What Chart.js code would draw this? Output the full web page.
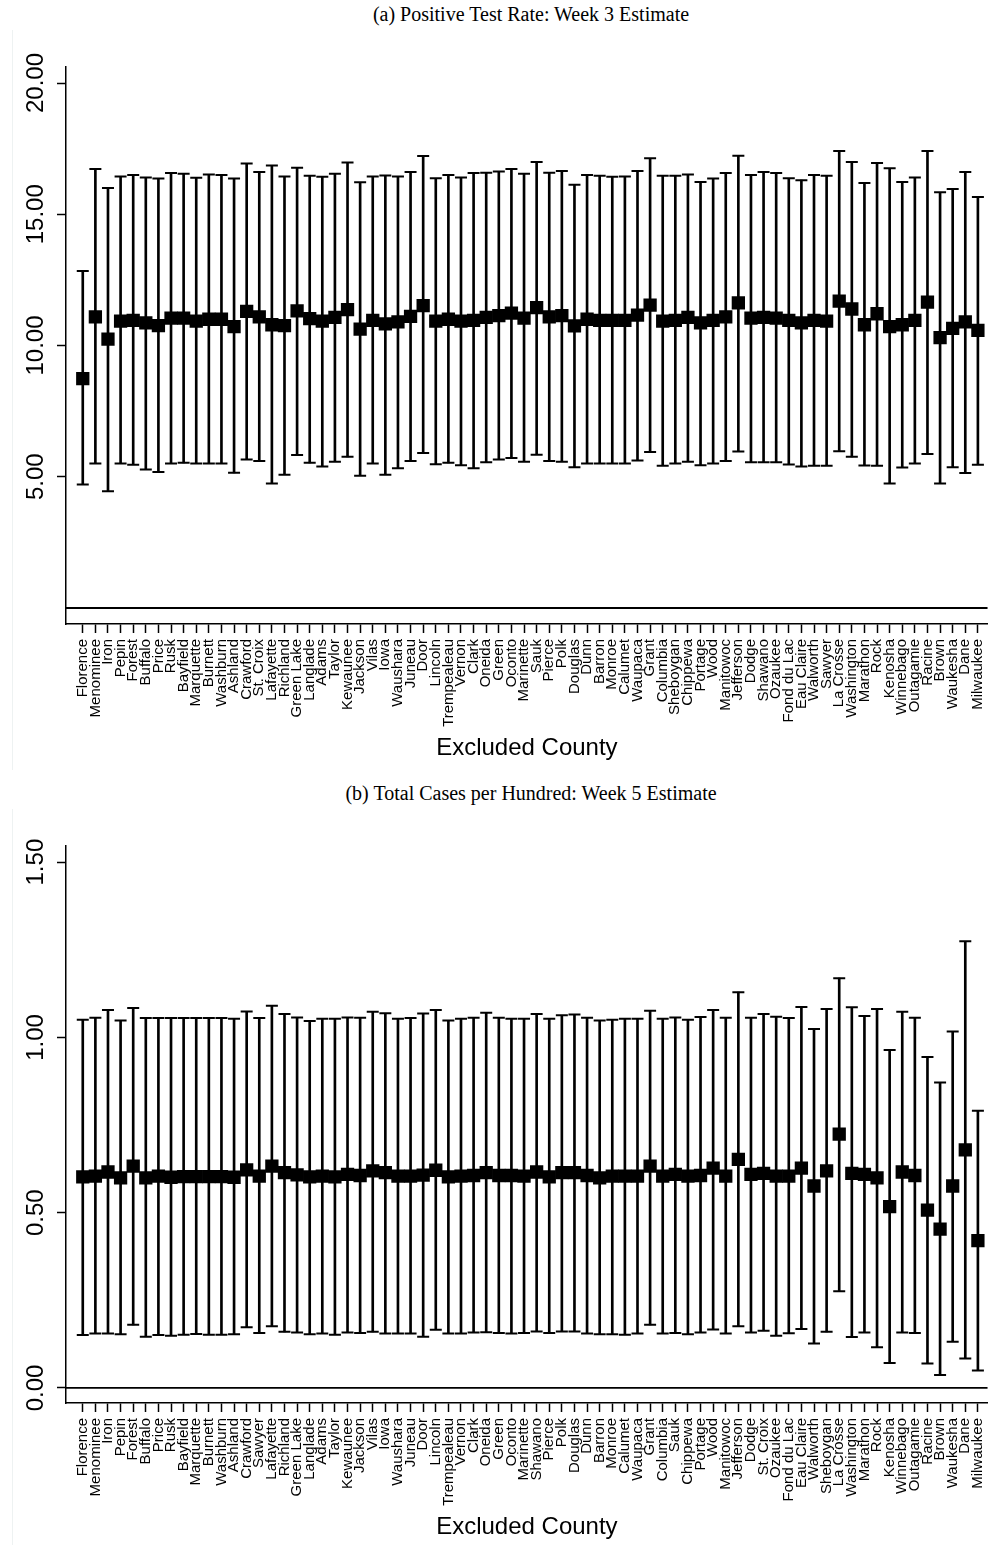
<!DOCTYPE html>
<html>
<head>
<meta charset="utf-8">
<title>Excluded County Estimates</title>
<script src="https://cdn.jsdelivr.net/npm/chart.js@4.4.1/dist/chart.umd.min.js"></script>
<style>
    html, body { margin: 0; padding: 0; background: #fff; overflow: hidden; }
    body { width: 1002px; height: 1545px; position: relative; }
    .panel { position: absolute; left: 0; width: 1002px; height: 779px; }
    .panel canvas { position: absolute; left: 0; top: 0; }
    .caption {
        position: absolute; left: 0; top: 3px; width: 1062px; text-align: center;
        font-family: "Liberation Serif", "DejaVu Serif", serif; font-size: 20px; line-height: 22px; color: #000;
    }
    .edge { position: absolute; left: 12px; top: 30px; width: 0; height: 740px; border-left: 1px solid #eef2f2; }
</style>
</head>
<body>
<div class="panel" style="top:0px">
    <div class="edge"></div>
    <div class="caption">(a) Positive Test Rate: Week 3 Estimate</div>
    <canvas id="chartA" width="1002" height="779"></canvas>
</div>
<div class="panel" style="top:779px">
    <div class="edge"></div>
    <div class="caption">(b) Total Cases per Hundred: Week 5 Estimate</div>
    <canvas id="chartB" width="1002" height="779"></canvas>
</div>
<script>
// Panel (a): positive test rate, week 3
const countiesA = ['Florence', 'Menominee', 'Iron', 'Pepin', 'Forest', 'Buffalo', 'Price', 'Rusk', 'Bayfield', 'Marquette',
    'Burnett', 'Washburn', 'Ashland', 'Crawford', 'St. Croix', 'Lafayette', 'Richland', 'Green Lake', 'Langlade', 'Adams',
    'Taylor', 'Kewaunee', 'Jackson', 'Vilas', 'Iowa', 'Waushara', 'Juneau', 'Door', 'Lincoln', 'Trempealeau',
    'Vernon', 'Clark', 'Oneida', 'Green', 'Oconto', 'Marinette', 'Sauk', 'Pierce', 'Polk', 'Douglas',
    'Dunn', 'Barron', 'Monroe', 'Calumet', 'Waupaca', 'Grant', 'Columbia', 'Sheboygan', 'Chippewa', 'Portage',
    'Wood', 'Manitowoc', 'Jefferson', 'Dodge', 'Shawano', 'Ozaukee', 'Fond du Lac', 'Eau Claire', 'Walworth', 'Sawyer',
    'La Crosse', 'Washington', 'Marathon', 'Rock', 'Kenosha', 'Winnebago', 'Outagamie', 'Racine', 'Brown', 'Waukesha',
    'Dane', 'Milwaukee'];
const estA = [8.74, 11.09, 10.24, 10.93, 10.96, 10.86, 10.76, 11.04, 11.04, 10.93,
    11.00, 11.00, 10.72, 11.30, 11.09, 10.79, 10.76, 11.32, 11.02, 10.93,
    11.07, 11.37, 10.62, 10.96, 10.82, 10.90, 11.11, 11.52, 10.93, 11.00,
    10.93, 10.96, 11.07, 11.14, 11.23, 11.04, 11.44, 11.09, 11.14, 10.75,
    11.00, 10.96, 10.96, 10.96, 11.16, 11.54, 10.93, 10.96, 11.07, 10.86,
    10.96, 11.09, 11.62, 11.04, 11.07, 11.04, 10.96, 10.86, 10.96, 10.93,
    11.69, 11.39, 10.79, 11.21, 10.72, 10.79, 10.96, 11.65, 10.30, 10.65,
    10.90, 10.58];
const lowA = [4.70, 5.50, 4.45, 5.50, 5.46, 5.28, 5.18, 5.50, 5.53, 5.50,
    5.50, 5.50, 5.15, 5.66, 5.60, 4.74, 5.08, 5.83, 5.53, 5.39,
    5.57, 5.76, 5.04, 5.50, 5.08, 5.32, 5.60, 5.90, 5.48, 5.53,
    5.44, 5.32, 5.55, 5.66, 5.71, 5.57, 5.84, 5.60, 5.57, 5.36,
    5.50, 5.50, 5.50, 5.50, 5.62, 5.94, 5.42, 5.50, 5.57, 5.44,
    5.50, 5.60, 5.96, 5.55, 5.55, 5.55, 5.47, 5.39, 5.42, 5.42,
    5.97, 5.76, 5.43, 5.42, 4.74, 5.35, 5.50, 5.87, 4.74, 5.36,
    5.14, 5.46];
const highA = [12.84, 16.72, 16.00, 16.44, 16.50, 16.40, 16.36, 16.57, 16.54, 16.39,
    16.51, 16.50, 16.36, 16.93, 16.61, 16.86, 16.44, 16.77, 16.47, 16.43,
    16.54, 16.97, 16.22, 16.44, 16.48, 16.44, 16.61, 17.22, 16.37, 16.50,
    16.40, 16.57, 16.58, 16.63, 16.72, 16.54, 16.99, 16.58, 16.65, 16.12,
    16.50, 16.47, 16.43, 16.44, 16.65, 17.13, 16.47, 16.47, 16.51, 16.23,
    16.36, 16.57, 17.23, 16.50, 16.61, 16.57, 16.37, 16.30, 16.50, 16.47,
    17.41, 16.99, 16.19, 16.95, 16.75, 16.23, 16.40, 17.41, 15.84, 15.96,
    16.61, 15.66];
const yTicksA = [5, 10, 15, 20];

// Panel (b): total cases per hundred, week 5
const countiesB = ['Florence', 'Menominee', 'Iron', 'Pepin', 'Forest', 'Buffalo', 'Price', 'Rusk', 'Bayfield', 'Marquette',
    'Burnett', 'Washburn', 'Ashland', 'Crawford', 'Sawyer', 'Lafayette', 'Richland', 'Green Lake', 'Langlade', 'Adams',
    'Taylor', 'Kewaunee', 'Jackson', 'Vilas', 'Iowa', 'Waushara', 'Juneau', 'Door', 'Lincoln', 'Trempealeau',
    'Vernon', 'Clark', 'Oneida', 'Green', 'Oconto', 'Marinette', 'Shawano', 'Pierce', 'Polk', 'Douglas',
    'Dunn', 'Barron', 'Monroe', 'Calumet', 'Waupaca', 'Grant', 'Columbia', 'Sauk', 'Chippewa', 'Portage',
    'Wood', 'Manitowoc', 'Jefferson', 'Dodge', 'St. Croix', 'Ozaukee', 'Fond du Lac', 'Eau Claire', 'Walworth', 'Sheboygan',
    'La Crosse', 'Washington', 'Marathon', 'Rock', 'Kenosha', 'Winnebago', 'Outagamie', 'Racine', 'Brown', 'Waukesha',
    'Dane', 'Milwaukee'];
const estB = [0.602, 0.604, 0.616, 0.599, 0.633, 0.599, 0.604, 0.601, 0.603, 0.603,
    0.603, 0.603, 0.601, 0.622, 0.604, 0.633, 0.614, 0.608, 0.602, 0.604,
    0.602, 0.609, 0.606, 0.619, 0.614, 0.604, 0.604, 0.607, 0.621, 0.602,
    0.604, 0.606, 0.614, 0.606, 0.606, 0.604, 0.616, 0.602, 0.614, 0.614,
    0.606, 0.599, 0.604, 0.604, 0.604, 0.633, 0.604, 0.609, 0.604, 0.606,
    0.627, 0.604, 0.652, 0.609, 0.612, 0.604, 0.604, 0.627, 0.576, 0.619,
    0.724, 0.612, 0.609, 0.599, 0.517, 0.616, 0.606, 0.507, 0.453, 0.576,
    0.679, 0.420];
const lowB = [0.151, 0.155, 0.155, 0.153, 0.180, 0.146, 0.151, 0.149, 0.152, 0.154,
    0.152, 0.152, 0.153, 0.173, 0.157, 0.176, 0.160, 0.158, 0.153, 0.155,
    0.152, 0.158, 0.157, 0.160, 0.155, 0.155, 0.155, 0.146, 0.166, 0.155,
    0.155, 0.158, 0.159, 0.157, 0.155, 0.157, 0.161, 0.157, 0.161, 0.161,
    0.155, 0.153, 0.153, 0.152, 0.155, 0.180, 0.155, 0.157, 0.153, 0.158,
    0.167, 0.155, 0.176, 0.158, 0.163, 0.149, 0.156, 0.168, 0.127, 0.160,
    0.276, 0.145, 0.158, 0.116, 0.071, 0.158, 0.157, 0.070, 0.037, 0.132,
    0.084, 0.050];
const highB = [1.050, 1.056, 1.078, 1.048, 1.084, 1.055, 1.055, 1.055, 1.055, 1.055,
    1.055, 1.055, 1.053, 1.074, 1.055, 1.090, 1.067, 1.057, 1.047, 1.053,
    1.053, 1.057, 1.056, 1.073, 1.069, 1.053, 1.055, 1.068, 1.078, 1.048,
    1.053, 1.056, 1.070, 1.056, 1.053, 1.053, 1.067, 1.053, 1.063, 1.065,
    1.056, 1.048, 1.050, 1.053, 1.053, 1.076, 1.053, 1.057, 1.050, 1.058,
    1.078, 1.056, 1.129, 1.056, 1.067, 1.059, 1.055, 1.087, 1.024, 1.081,
    1.169, 1.086, 1.061, 1.081, 0.964, 1.073, 1.056, 0.944, 0.871, 1.017,
    1.274, 0.791];
const yTicksB = [0, 0.5, 1, 1.5];

Chart.defaults.font.family = '"Liberation Sans", Arial, sans-serif';
Chart.defaults.color = '#000';

// y tick labels in the original are turned on their side, Chart.js can't rotate them
const sideYLabels = {
    id: 'sideYLabels',
    afterDraw(chart, args, opts) {
        const y = chart.scales.y;
        const ctx = chart.ctx;
        ctx.save();
        ctx.fillStyle = '#000';
        ctx.font = '24px "Liberation Sans", Arial, sans-serif';
        ctx.textAlign = 'center';
        ctx.textBaseline = 'alphabetic';
        opts.values.forEach(v => {
            ctx.save();
            ctx.translate(43, y.getPixelForValue(v));
            ctx.rotate(-Math.PI / 2);
            ctx.fillText(v.toFixed(2), 0, 0);
            ctx.restore();
        });
        ctx.restore();
    }
};

function makeChart(canvasId, counties, est, low, high, yTicks, yMin, yMax) {
    const xMin = -0.33, xMax = 72.78;
    const idx = counties.map((c, i) => i + 1);

    return new Chart(document.getElementById(canvasId).getContext('2d'), {
        type: 'scatter',
        data: {
            datasets: [
                {
                    type: 'line',
                    data: [{x: xMin, y: 0}, {x: xMax, y: 0}],
                    borderColor: '#000',
                    borderWidth: 1.8,
                    pointRadius: 0,
                    order: 4
                },
                {
                    type: 'bar',
                    data: idx.map((x, i) => ({x: x, y: [low[i], high[i]]})),
                    backgroundColor: '#000',
                    borderWidth: 0,
                    barThickness: 2,
                    grouped: false,
                    order: 3
                },
                {
                    data: idx.map((x, i) => ({x: x, y: high[i]})),
                    pointStyle: 'line',
                    radius: 6,
                    borderWidth: 2,
                    borderColor: '#000',
                    order: 2
                },
                {
                    data: idx.map((x, i) => ({x: x, y: low[i]})),
                    pointStyle: 'line',
                    radius: 6,
                    borderWidth: 2,
                    borderColor: '#000',
                    order: 2
                },
                {
                    data: idx.map((x, i) => ({x: x, y: est[i]})),
                    pointStyle: 'rect',
                    radius: 9.4,
                    backgroundColor: '#000',
                    borderWidth: 0,
                    order: 1
                }
            ]
        },
        options: {
            responsive: false,
            animation: false,
            devicePixelRatio: 1,
            layout: { padding: { left: 0, right: 2, top: 67, bottom: 0 } },
            scales: {
                x: {
                    type: 'linear',
                    min: xMin,
                    max: xMax,
                    offset: false,
                    afterBuildTicks: axis => { axis.ticks = idx.map(v => ({value: v})); },
                    afterFit: axis => { axis.height = 155; },
                    ticks: {
                        autoSkip: false,
                        minRotation: 90,
                        maxRotation: 90,
                        padding: 6,
                        font: { size: 15 },
                        callback: v => counties[v - 1]
                    },
                    grid: {
                        offset: false,
                        drawOnChartArea: false,
                        drawTicks: true,
                        tickLength: 9,
                        tickColor: '#000',
                        tickWidth: 1.5
                    },
                    border: { display: true, color: '#000', width: 1.5 },
                    title: {
                        display: true,
                        text: 'Excluded County',
                        font: { size: 24 },
                        padding: { top: 0, bottom: 16 }
                    }
                },
                y: {
                    type: 'linear',
                    min: yMin,
                    max: yMax,
                    afterBuildTicks: axis => { axis.ticks = yTicks.map(v => ({value: v})); },
                    afterFit: axis => { axis.width = 66; },
                    ticks: { display: false },
                    grid: {
                        drawOnChartArea: false,
                        drawTicks: true,
                        tickLength: 9,
                        tickColor: '#000',
                        tickWidth: 1.5
                    },
                    border: { display: true, color: '#000', width: 1.5 }
                }
            },
            plugins: {
                legend: { display: false },
                tooltip: { enabled: false },
                sideYLabels: { values: yTicks }
            }
        },
        plugins: [sideYLabels]
    });
}

makeChart('chartA', countiesA, estA, lowA, highA, yTicksA, -0.61, 20.61);
makeChart('chartB', countiesB, estB, lowB, highB, yTicksB, -0.043, 1.546);
</script>
</body>
</html>
